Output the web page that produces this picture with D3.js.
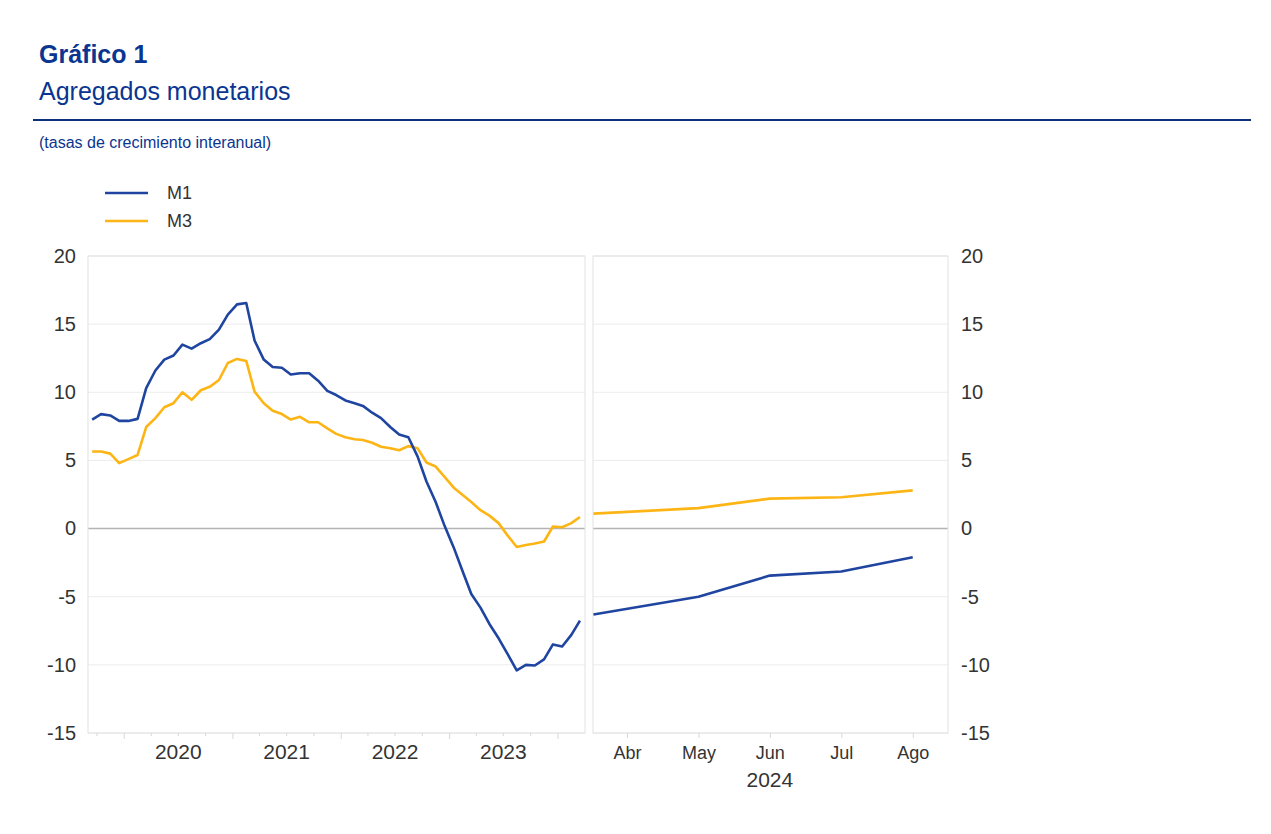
<!DOCTYPE html>
<html>
<head>
<meta charset="utf-8">
<script src="https://cdn.jsdelivr.net/npm/d3@7"></script>
<style>
  body { margin: 0; background: #fff; }
  text { font-family: "Liberation Sans", Arial, sans-serif; }
</style>
</head>
<body>
<svg id="chart" width="1271" height="834"></svg>
<script>
// series mensuelles (tasas interanuales), sep 2019 -> mar 2024
var firstMonth = new Date(2019, 8, 15);
var m1Hist = [8.0, 8.4, 8.3, 7.9, 7.9, 8.05, 10.3, 11.6, 12.4, 12.7, 13.5, 13.2,
    13.6, 13.9, 14.6, 15.7, 16.45, 16.55, 13.8, 12.4, 11.85, 11.8, 11.3, 11.4,
    11.4, 10.85, 10.1, 9.8, 9.4, 9.2, 9.0, 8.5, 8.1, 7.45, 6.9, 6.7,
    5.3, 3.45, 1.95, 0.2, -1.4, -3.2, -4.8, -5.8, -7.0, -8.05, -9.2, -10.4,
    -10.0, -10.05, -9.6, -8.5, -8.65, -7.8, -6.75];
var m3Hist = [5.65, 5.65, 5.5, 4.8, 5.1, 5.4, 7.45, 8.1, 8.9, 9.2, 10.0, 9.45,
    10.15, 10.4, 10.9, 12.15, 12.45, 12.3, 10.05, 9.2, 8.65, 8.4, 8.0, 8.2,
    7.8, 7.8, 7.35, 6.95, 6.7, 6.55, 6.5, 6.3, 6.0, 5.9, 5.75, 6.05,
    5.9, 4.85, 4.55, 3.8, 3.0, 2.45, 1.95, 1.35, 0.95, 0.4, -0.5, -1.35,
    -1.2, -1.1, -0.95, 0.15, 0.1, 0.4, 0.85];
var years = [2020, 2021, 2022, 2023];

// 2024, panel derecho
var recentMonths = [3.53, 5, 6, 7, 8];
var m1Recent = [-6.3, -5.0, -3.45, -3.15, -2.1];
var m3Recent = [1.1, 1.5, 2.2, 2.3, 2.8];
var monthTicks = [4, 5, 6, 7, 8];
var monthLabels = ["Abr", "May", "Jun", "Jul", "Ago"];

var yTicks = [-15, -10, -5, 0, 5, 10, 15, 20];
var blue = "#1f45a0";
var yellow = "#fdb515";
var navy = "#0a3590";

var svg = d3.select("#chart");

// titres
svg.append("text").attr("x", 39).attr("y", 63).attr("fill", navy)
    .attr("font-size", 25).attr("font-weight", "bold").text("Gráfico 1");
svg.append("text").attr("x", 39).attr("y", 100).attr("fill", navy)
    .attr("font-size", 25).text("Agregados monetarios");
svg.append("line").attr("x1", 33).attr("x2", 1251).attr("y1", 120).attr("y2", 120)
    .attr("stroke", "#0d2f7d").attr("stroke-width", 2);
svg.append("text").attr("x", 39).attr("y", 148).attr("fill", navy)
    .attr("font-size", 16).text("(tasas de crecimiento interanual)");

// legende
var legend = [["M1", blue], ["M3", yellow]];
legend.forEach(function (l, i) {
    svg.append("line").attr("x1", 105).attr("x2", 148)
        .attr("y1", 193 + i * 28).attr("y2", 193 + i * 28)
        .attr("stroke", l[1]).attr("stroke-width", 2.5);
    svg.append("text").attr("x", 167).attr("y", 199 + i * 28)
        .attr("font-size", 18).attr("fill", "#333").text(l[0]);
});

var plotTop = 256, plotBottom = 733;
var y = d3.scaleLinear().domain([-15, 20]).range([plotBottom, plotTop]);

var xL = d3.scaleTime().domain([new Date(2019, 8, 1), new Date(2024, 3, 1)]).range([88, 585]);
var xR = d3.scaleLinear().domain([3.524, 8.494]).range([593, 948]);

var dates = m1Hist.map(function (d, i) { return d3.timeMonth.offset(firstMonth, i); });

function panel(x0, x1) {
    var g = svg.append("g");
    g.selectAll(".grid").data(yTicks).enter().append("line")
        .attr("x1", x0).attr("x2", x1)
        .attr("y1", function (d) { return y(d); }).attr("y2", function (d) { return y(d); })
        .attr("stroke", function (d) { return d === 0 ? "#b4b4b4" : "#ececec"; })
        .attr("stroke-width", function (d) { return d === 0 ? 1.6 : 1; });
    g.append("rect").attr("x", x0).attr("y", plotTop).attr("width", x1 - x0).attr("height", plotBottom - plotTop)
        .attr("fill", "none").attr("stroke", "#e2e2e2");
    return g;
}
panel(88, 585);
panel(593, 948);

// axes Y
var yAxisL = svg.append("g").attr("transform", "translate(88,0)")
    .call(d3.axisLeft(y).tickValues(yTicks).tickSize(0).tickPadding(12).tickFormat(function (d) { return String(d); }));
var yAxisR = svg.append("g").attr("transform", "translate(948,0)")
    .call(d3.axisRight(y).tickValues(yTicks).tickSize(0).tickPadding(13).tickFormat(function (d) { return String(d); }));
[yAxisL, yAxisR].forEach(function (a) {
    a.select(".domain").remove();
    a.selectAll("text").attr("font-size", 20).attr("fill", "#333");
});

// axe X gauche
var quarters = d3.timeMonth.every(3).range(new Date(2019, 9, 1), new Date(2024, 3, 1));
svg.selectAll(".qt").data(quarters).enter().append("line")
    .attr("x1", function (d) { return xL(d); }).attr("x2", function (d) { return xL(d); })
    .attr("y1", plotBottom).attr("y2", function (d) { return d.getMonth() === 0 ? plotBottom + 6 : plotBottom + 3; })
    .attr("stroke", "#d8d8d8");
svg.selectAll(".yr").data(years).enter().append("text")
    .attr("x", function (d) { return xL(new Date(d, 6, 1)); })
    .attr("y", 759).attr("text-anchor", "middle").attr("font-size", 21).attr("fill", "#333")
    .text(function (d) { return d; });

// axe X droit
var xAxisR = svg.append("g").attr("transform", "translate(0," + plotBottom + ")")
    .call(d3.axisBottom(xR).tickValues(monthTicks).tickSize(5).tickPadding(8)
        .tickFormat(function (d, i) { return monthLabels[i]; }));
xAxisR.select(".domain").remove();
xAxisR.selectAll("line").attr("stroke", "#d8d8d8");
xAxisR.selectAll("text").attr("font-size", 18).attr("fill", "#333");
svg.append("text").attr("x", xR(6)).attr("y", 787).attr("text-anchor", "middle")
    .attr("font-size", 21).attr("fill", "#333").text("2024");

// lignes
var lineL = d3.line().x(function (d) { return xL(d[0]); }).y(function (d) { return y(d[1]); });
var lineR = d3.line().x(function (d) { return xR(d[0]); }).y(function (d) { return y(d[1]); });

[[m3Hist, yellow], [m1Hist, blue]].forEach(function (s) {
    svg.append("path").datum(dates.map(function (d, i) { return [d, s[0][i]]; }))
        .attr("d", lineL).attr("fill", "none").attr("stroke", s[1])
        .attr("stroke-width", 2.6).attr("stroke-linejoin", "round");
});
[[m3Recent, yellow], [m1Recent, blue]].forEach(function (s) {
    svg.append("path").datum(recentMonths.map(function (m, i) { return [m, s[0][i]]; }))
        .attr("d", lineR).attr("fill", "none").attr("stroke", s[1])
        .attr("stroke-width", 2.6).attr("stroke-linejoin", "round");
});
</script>
</body>
</html>
